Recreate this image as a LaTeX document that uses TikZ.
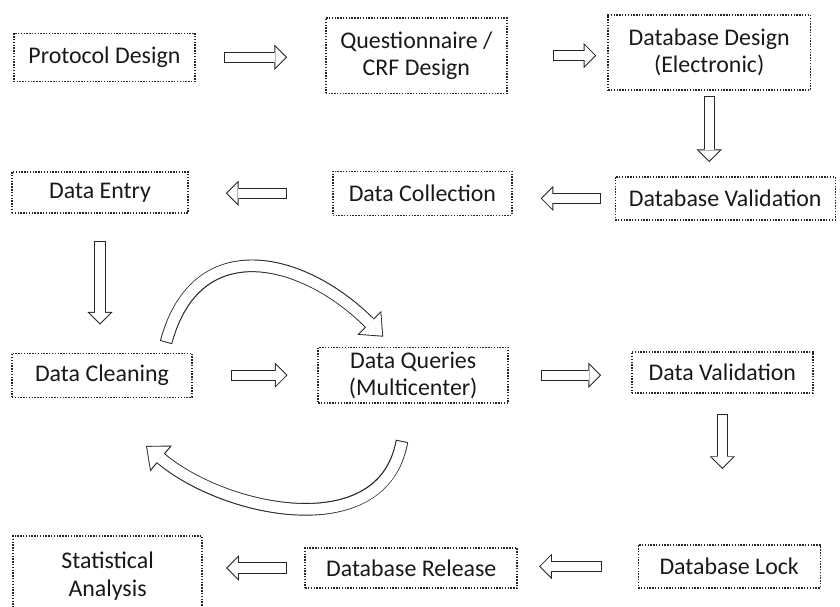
\documentclass[tikz,border=0pt]{standalone}
\usepackage{fontspec}
\setmainfont{Carlito}
\usetikzlibrary{arrows.meta}

% hollow block arrow: dark rim first, white core on top
\newcommand{\hollowarrow}[4]{%
\draw[#1 rim, shorten <=#2, shorten >=#3] #4;
\draw[#1 core, shorten <=#2+0.7pt, shorten >=#3+1pt] #4;}

\begin{document}
\begin{tikzpicture}[
  stage/.style={draw=black!85, densely dotted, line width=1pt, align=center, inner sep=3pt,
    font=\fontsize{17}{19.5}\selectfont, text=black!90},
  flow rim/.style={draw=black!85, line width=8pt, -{Triangle[length=9pt,width=18pt,line width=0pt]}},
  flow core/.style={draw=white, line width=6.6pt, -{Triangle[length=7.3pt,width=14.6pt,line width=0pt]}},
  loop rim/.style={draw=black!85, line width=9pt, -{Triangle[length=14pt,width=24pt,line width=0pt]}},
  loop core/.style={draw=white, line width=7.6pt, -{Triangle[length=12.2pt,width=21pt,line width=0pt]}}]
\useasboundingbox (0,0) rectangle (21,-15.175);

\node(proto)[stage, minimum width=4.53cm, minimum height=1.2cm] at (2.61,-1.43) {Protocol Design};
\node(crf)[stage, minimum width=4.53cm, minimum height=1.88cm] at (10.41,-1.39) {Questionnaire /\\CRF Design};
\node(dbdesign)[stage, minimum width=5.05cm, minimum height=1.88cm] at (17.73,-1.31) {Database Design\\(Electronic)};

\node(entry)[stage, minimum width=4.4cm, minimum height=1.03cm] at (2.5,-4.81) {Data Entry};
\node(collect)[stage, minimum width=4.48cm, minimum height=1.1cm] at (10.56,-4.83) {Data Collection};
\node(dbvalid)[stage, minimum width=5.5cm, minimum height=1.08cm] at (18.13,-4.96) {Database Validation};

\node(clean)[stage, minimum width=4.5cm, minimum height=1.1cm] at (2.55,-9.38) {Data Cleaning};
\node(queries)[stage, minimum width=4.75cm, minimum height=1.25cm] at (10.33,-9.38) {Data Queries\\(Multicenter)};
\node(dvalid)[stage, minimum width=4.53cm, minimum height=1.03cm] at (18.06,-9.31) {Data Validation};

\node(stats)[stage, minimum width=4.73cm, minimum height=2cm] at (2.69,-14.4) {Statistical\\Analysis};
\node(release)[stage, minimum width=5.3cm, minimum height=1cm] at (10.28,-14.2) {Database Release};
\node(lock)[stage, minimum width=4.55cm, minimum height=1.08cm] at (18.23,-14.16) {Database Lock};

\hollowarrow{flow}{0.7cm}{0.95cm}{(proto.east) -- (proto.east -| crf.west)}
\hollowarrow{flow}{1.13cm}{0.28cm}{(crf.east) -- (crf.east -| dbdesign.west)}
\hollowarrow{flow}{0.13cm}{0.35cm}{(dbdesign.south) -- (dbdesign.south |- dbvalid.north)}
\hollowarrow{flow}{0.33cm}{0.7cm}{(dbvalid.west) -- (dbvalid.west -| collect.east)}
\hollowarrow{flow}{1.13cm}{0.93cm}{(collect.west) -- (collect.west -| entry.east)}
\hollowarrow{flow}{0.68cm}{0.7cm}{(entry.south) -- (entry.south |- clean.north)}
\hollowarrow{flow}{0.95cm}{0.75cm}{(clean.east) -- (clean.east -| queries.west)}
\hollowarrow{flow}{0.8cm}{0.75cm}{(queries.east) -- (queries.east -| dvalid.west)}
\hollowarrow{flow}{0.5cm}{1.88cm}{(dvalid.south) -- (dvalid.south |- lock.north)}
\hollowarrow{flow}{0.88cm}{0.53cm}{(lock.west) -- (lock.west -| release.east)}
\hollowarrow{flow}{0.43cm}{0.58cm}{(release.west) -- (release.west -| stats.east)}

\hollowarrow{loop}{0pt}{0pt}{([xshift=1.6cm,yshift=0.25cm]clean.north) to[out=75,in=135,looseness=1.35] ([xshift=-0.75cm,yshift=0.25cm]queries.north)}
\hollowarrow{loop}{0pt}{0pt}{([xshift=-0.28cm,yshift=-0.93cm]queries.south) to[out=260,in=-40,looseness=1.05] ([xshift=1.1cm,yshift=-1.2cm]clean.south)}
\end{tikzpicture}
\end{document}
